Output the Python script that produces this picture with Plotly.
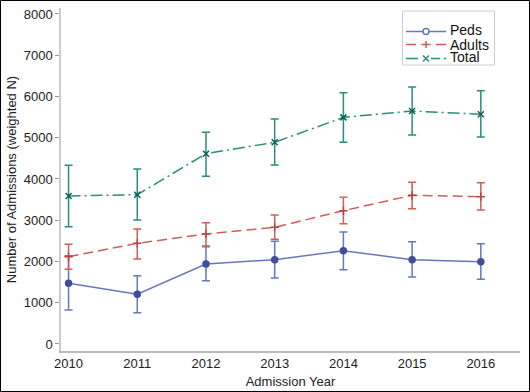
import plotly.graph_objects as go

years = [2010, 2011, 2012, 2013, 2014, 2015, 2016]

peds = [1471, 1205, 1939, 2044, 2262, 2044, 1996]
peds_hi = [2141, 1656, 2359, 2489, 2715, 2481, 2432]
peds_lo = [824, 759, 1535, 1600, 1802, 1624, 1568]

adults = [2117, 2440, 2667, 2828, 3232, 3604, 3572]
adults_hi = [2416, 2788, 2941, 3127, 3556, 3919, 3911]
adults_lo = [1810, 2061, 2376, 2537, 2917, 3281, 3248]

total = [3588, 3620, 4614, 4889, 5494, 5648, 5568]
total_hi = [4331, 4242, 5131, 5455, 6093, 6230, 6141]
total_lo = [2844, 3006, 4065, 4339, 4889, 5067, 5018]

y_ticks = [0, 1000, 2000, 3000, 4000, 5000, 6000, 7000, 8000]

series = [
    ("Peds", peds, peds_hi, peds_lo, "#6677bb", "#3d4f9c", "circle", "solid"),
    ("Adults", adults, adults_hi, adults_lo, "#cc5f57", "#b44a42", "cross-thin", "10px,5px"),
    ("Total", total, total_hi, total_lo, "#2b8c80", "#0e5f55", "x-thin", "12px,4px,2px,4px"),
]

fig = go.Figure()
for name, v, hi, lo, col, mcol, sym, dash in series:
    fig.add_trace(go.Scatter(
        x=years, y=v, name=name, mode="lines+markers", showlegend=False,
        line=dict(color=col, width=1.5, dash=dash),
        marker=dict(symbol=sym, size=6, color=mcol,
                    line=dict(color=mcol, width=1.5)),
        error_y=dict(type="data", symmetric=False,
                     array=[h - m for h, m in zip(hi, v)],
                     arrayminus=[m - l for m, l in zip(v, lo)],
                     color=col, thickness=1.5, width=4),
    ))

W, H = 530, 392
L, R, T, B = 61, 10, 8, 41
pw, ph = W - L - R, H - T - B

def px_x(p):
    return (p - L) / pw

def px_y(p):
    return (H - B - p) / ph

shapes = []
annotations = []

# outer frame
shapes.append(dict(type="rect", xref="paper", yref="paper",
                   x0=px_x(0.5), x1=px_x(W - 0.5), y0=px_y(H - 0.5), y1=px_y(0.5),
                   line=dict(color="black", width=1), fillcolor="rgba(0,0,0,0)"))

# custom compact legend
shapes.append(dict(type="rect", xref="paper", yref="paper",
                   x0=px_x(402.5), x1=px_x(494.5), y0=px_y(65), y1=px_y(11),
                   line=dict(color="#cccccc", width=1), fillcolor="white"))
row_line_y = [31.5, 44.5, 58.5]
row_text_y = [29.5, 44.5, 57]
lx0, lx1, mx = 406, 446, 426
for (name, v, hi, lo, col, mcol, sym, dash), ly, ty in zip(series, row_line_y, row_text_y):
    shapes.append(dict(type="line", xref="paper", yref="paper",
                       x0=px_x(lx0), x1=px_x(lx1), y0=px_y(ly), y1=px_y(ly),
                       line=dict(color=col, width=1.5, dash=dash)))
    if sym == "circle":
        shapes.append(dict(type="circle", xref="paper", yref="paper",
                           x0=px_x(mx - 3), x1=px_x(mx + 3),
                           y0=px_y(ly + 3), y1=px_y(ly - 3),
                           line=dict(color=col, width=1.5), fillcolor="white"))
    elif sym == "cross-thin":
        shapes.append(dict(type="rect", xref="paper", yref="paper",
                           x0=px_x(mx - 4), x1=px_x(mx + 4),
                           y0=px_y(ly + 1), y1=px_y(ly - 1),
                           line=dict(width=0), fillcolor="white"))
        shapes.append(dict(type="line", xref="paper", yref="paper",
                           x0=px_x(mx - 3.5), x1=px_x(mx + 3.5), y0=px_y(ly), y1=px_y(ly),
                           line=dict(color=col, width=1.5)))
        shapes.append(dict(type="line", xref="paper", yref="paper",
                           x0=px_x(mx), x1=px_x(mx), y0=px_y(ly + 3.5), y1=px_y(ly - 3.5),
                           line=dict(color=col, width=1.5)))
    else:
        shapes.append(dict(type="rect", xref="paper", yref="paper",
                           x0=px_x(mx - 5), x1=px_x(mx + 5),
                           y0=px_y(ly + 1), y1=px_y(ly - 1),
                           line=dict(width=0), fillcolor="white"))
        shapes.append(dict(type="line", xref="paper", yref="paper",
                           x0=px_x(mx - 3), x1=px_x(mx + 3), y0=px_y(ly + 3), y1=px_y(ly - 3),
                           line=dict(color=col, width=1.5)))
        shapes.append(dict(type="line", xref="paper", yref="paper",
                           x0=px_x(mx - 3), x1=px_x(mx + 3), y0=px_y(ly - 3), y1=px_y(ly + 3),
                           line=dict(color=col, width=1.5)))
    annotations.append(dict(xref="paper", yref="paper", x=px_x(449), y=px_y(ty),
                            xanchor="left", yanchor="middle", showarrow=False,
                            borderpad=0,
                            text=name, font=dict(size=14, color="#111")))

fig.update_layout(
    width=W, height=H,
    margin=dict(l=L, r=R, t=T, b=B, autoexpand=False),
    paper_bgcolor="white", plot_bgcolor="white",
    font=dict(family="Liberation Sans, Arial, sans-serif", size=13, color="#222"),
    showlegend=False,
    shapes=shapes,
    annotations=annotations,
    xaxis=dict(range=[2009.89, 2016.57], tickvals=years,
               ticktext=[str(y) for y in years],
               showgrid=False, zeroline=False, showline=True,
               linecolor="#bbbbbb", linewidth=1.5, ticks="",
               automargin=False, tickfont=dict(size=13),
               title=dict(text="Admission Year", standoff=7, font=dict(size=13))),
    yaxis=dict(range=[-170, 8145], tickvals=y_ticks,
               showgrid=False, zeroline=False, showline=True,
               linecolor="#cccccc", linewidth=1.5, ticks="outside",
               ticklen=4, tickcolor="#999999", automargin=False,
               tickfont=dict(size=13),
               title=dict(text="Number of Admissions (weighted N)", standoff=4,
                          font=dict(size=13))),
)

fig.write_html("out.html", config={"displayModeBar": False},
               post_script="document.body.style.margin='0';document.body.style.overflow='hidden';")
